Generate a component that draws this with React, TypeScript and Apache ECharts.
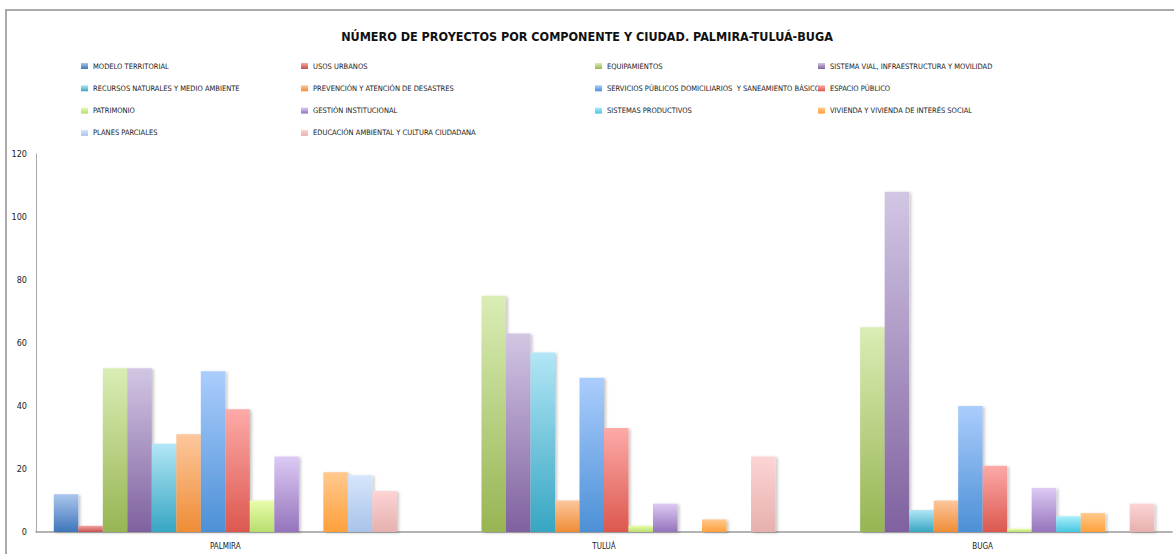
import React, { useEffect, useRef } from "react";
import * as echarts from "echarts";

const cities = ["PALMIRA", "TULUÁ", "BUGA"];
const components = [
  "MODELO TERRITORIAL",
  "USOS URBANOS",
  "EQUIPAMIENTOS",
  "SISTEMA VIAL, INFRAESTRUCTURA Y MOVILIDAD",
  "RECURSOS NATURALES Y MEDIO AMBIENTE",
  "PREVENCIÓN Y ATENCIÓN DE DESASTRES",
  "SERVICIOS PÚBLICOS DOMICILIARIOS  Y SANEAMIENTO BÁSICO",
  "ESPACIO PÚBLICO",
  "PATRIMONIO",
  "GESTIÓN INSTITUCIONAL",
  "SISTEMAS PRODUCTIVOS",
  "VIVIENDA Y VIVIENDA DE INTERÉS SOCIAL",
  "PLANES PARCIALES",
  "EDUCACIÓN AMBIENTAL Y CULTURA CIUDADANA",
];
const modeloTerritorial = [12, 0, 0];
const usosUrbanos = [2, 0, 0];
const equipamientos = [52, 75, 65];
const sistemaVial = [52, 63, 108];
const recursosNaturales = [28, 57, 7];
const prevencion = [31, 10, 10];
const serviciosPublicos = [51, 49, 40];
const espacioPublico = [39, 33, 21];
const patrimonio = [10, 2, 1];
const gestionInstitucional = [24, 9, 14];
const sistemasProductivos = [0, 0, 5];
const vivienda = [19, 4, 6];
const planesParciales = [18, 0, 0];
const educacionAmbiental = [13, 24, 9];
const yTicks = [0, 20, 40, 60, 80, 100, 120];

const seriesValues = [
  modeloTerritorial,
  usosUrbanos,
  equipamientos,
  sistemaVial,
  recursosNaturales,
  prevencion,
  serviciosPublicos,
  espacioPublico,
  patrimonio,
  gestionInstitucional,
  sistemasProductivos,
  vivienda,
  planesParciales,
  educacionAmbiental,
];

const palette: [string, string][] = [
  ["#abc6ee", "#3f76b9"],
  ["#f3a6a4", "#c6504d"],
  ["#daedb5", "#97b553"],
  ["#d2c6e4", "#7f619f"],
  ["#b2e6f6", "#37a6c2"],
  ["#fdc79d", "#ee8d36"],
  ["#abcdfd", "#4c90d6"],
  ["#fdaaa8", "#dc584f"],
  ["#e9fcab", "#b7de6e"],
  ["#dccaf4", "#9574bc"],
  ["#aaf0fd", "#46c6e0"],
  ["#ffc98d", "#ffa03c"],
  ["#d6e5fc", "#a9c3e8"],
  ["#fdd4d5", "#e6b0ae"],
];

const legendCols = [
  { x: 81, idx: [0, 4, 8, 12] },
  { x: 301, idx: [1, 5, 9, 13] },
  { x: 595, idx: [2, 6, 10] },
  { x: 818, idx: [3, 7, 11] },
];

const FONT = "'DejaVu Sans Condensed', Roboto, sans-serif";

export default function App() {
  const ref = useRef<HTMLDivElement>(null);
  useEffect(() => {
    if (!ref.current) return;
    const chart = echarts.init(ref.current, undefined, { renderer: "svg" });
    const grad = (c: [string, string]) =>
      new echarts.graphic.LinearGradient(0, 0, 0, 1, [
        { offset: 0, color: c[0] },
        { offset: 1, color: c[1] },
      ]);
    chart.setOption({
      animation: false,
      backgroundColor: "#ffffff",
      textStyle: { fontFamily: FONT },
      title: {
        text: "NÚMERO DE PROYECTOS POR COMPONENTE Y CIUDAD. PALMIRA-TULUÁ-BUGA",
        left: "center",
        top: 25,
        textStyle: { fontFamily: FONT, fontSize: 12.5, fontWeight: "bold", color: "#111" },
      },
      graphic: [
        {
          type: "rect",
          shape: { x: 6, y: 10, width: 1300, height: 700 },
          style: { fill: "none", stroke: "#8f8f8f", lineWidth: 1.5 },
          silent: true,
        },
      ],
      legend: legendCols.map((col) => ({
        orient: "vertical",
        left: col.x,
        top: 60,
        padding: 0,
        itemWidth: 7,
        itemHeight: 6,
        itemGap: 10.3,
        itemTextGap: 0,
        icon: "rect",
        selectedMode: false,
        data: col.idx.map((i) => components[i]),
        textStyle: { fontFamily: FONT, fontSize: 7.5, color: "#1a1a1a", lineHeight: 12 },
      })),
      grid: { left: 36, right: 2, top: 154, bottom: 22, containLabel: false },
      xAxis: {
        type: "category",
        data: cities,
        axisLine: { show: true, lineStyle: { color: "#9a9a9a", width: 1.5 } },
        axisTick: { show: false },
        axisLabel: { fontFamily: FONT, fontSize: 8, color: "#222", margin: 10 },
      },
      yAxis: {
        type: "value",
        min: yTicks[0],
        max: yTicks[yTicks.length - 1],
        interval: 20,
        axisLine: { show: true, lineStyle: { color: "#a8a8a8", width: 1 } },
        axisTick: { show: false },
        axisLabel: { fontFamily: FONT, fontSize: 9, color: "#222", margin: 9 },
        splitLine: {
          lineStyle: {
            color: "#a3a3a3",
            width: 1.2,
            shadowColor: "rgba(0,0,0,0.2)",
            shadowBlur: 2,
            shadowOffsetY: 1,
          },
        },
      },
      series: seriesValues.map((vals, i) => ({
        name: components[i],
        type: "bar",
        data: vals,
        barGap: "0%",
        barCategoryGap: "9.4%",
        itemStyle: {
          color: grad(palette[i]),
          shadowColor: "rgba(0,0,0,0.22)",
          shadowBlur: 3,
          shadowOffsetX: 2,
          shadowOffsetY: 1,
        },
      })),
    });
    return () => chart.dispose();
  }, []);
  return (
    <div
      ref={ref}
      style={{ position: "absolute", left: 0, top: 0, width: 1174, height: 554 }}
    />
  );
}
